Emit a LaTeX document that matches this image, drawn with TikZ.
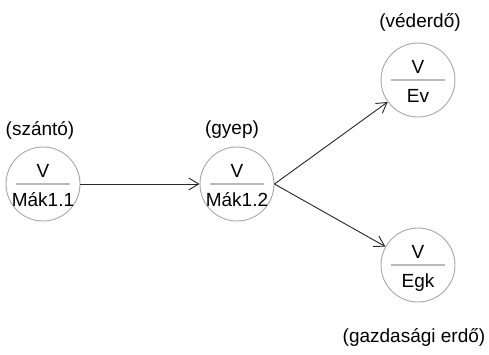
\documentclass[tikz,border=0pt]{standalone}
\usepackage{fontspec}
\setmainfont{Liberation Sans}
\usetikzlibrary{arrows.meta}

\tikzset{
    allapot/.style={circle, draw=gray!70, line width=0.9pt, minimum size=74pt, inner sep=0pt},
    felirat/.style={font=\fontsize{19}{21}\selectfont, inner sep=0pt},
    nyil/.style={draw=black!85, line width=0.9pt, -{Straight Barb[length=10pt,width=12pt]}}
}

\begin{document}
\begin{tikzpicture}[x=1pt,y=-1pt]
                \useasboundingbox
                    (0,0) rectangle (489,354);
                % states
                \node[allapot] (mak11) at (43,184) {};
                \node[allapot] (mak12) at (237,184) {};
                \node[allapot] (ev) at (418,80) {};
                \node[allapot] (egk) at (418,265) {};
                % texts inside the circles
                \foreach \n/\t in {mak11/Mák1.1, mak12/Mák1.2, ev/Ev, egk/Egk}{
                    \draw[gray!55, line width=1.4pt]
                        ([xshift=-27pt]\n.center) -- ([xshift=27pt]\n.center);
                    \node[felirat, anchor=base] at ([yshift=7pt]\n.center) {V};
                    \node[felirat, anchor=base] at ([yshift=-22pt]\n.center) {\t};
                }
                % land use labels
                \node[felirat] (szanto) at (40,130) {(szántó)};
                \node[felirat] (gyep) at (232,130) {(gyep)};
                \node[felirat] (vederdo) at (420,22) {(véderdő)};
                \node[felirat] (gazd) at (414,337) {(gazdasági erdő)};
                % transitions
                \draw[nyil] (mak11) -- (mak12);
                \draw[nyil] (mak12.east) -- (ev);
                \draw[nyil] (mak12.east) -- (egk);
            \end{tikzpicture}
\end{document}
